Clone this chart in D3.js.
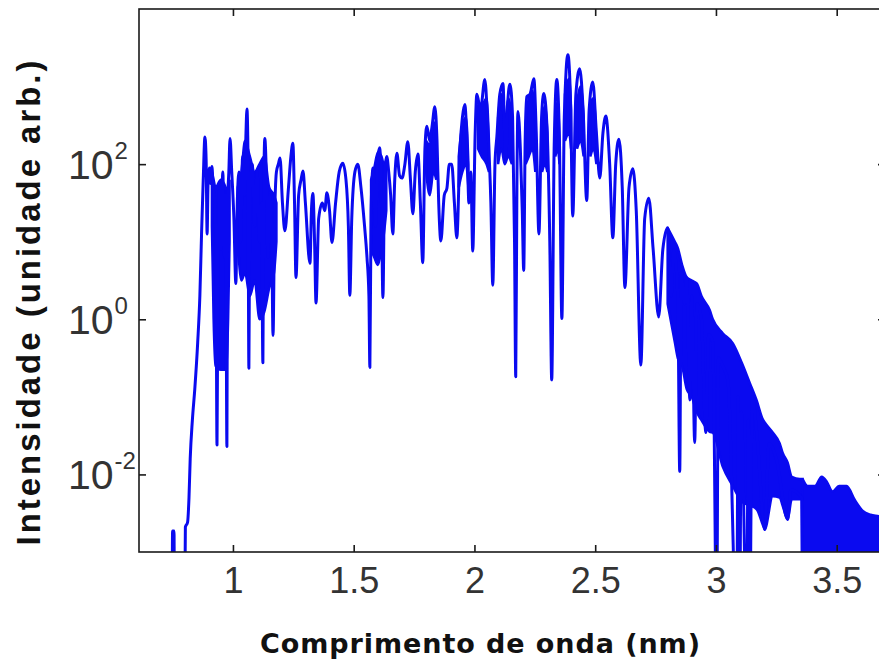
<!DOCTYPE html>
<html>
<head>
<meta charset="utf-8">
<script src="https://cdn.jsdelivr.net/npm/d3@7/dist/d3.min.js"></script>
<style>
  body { margin: 0; background: #fff; }
  svg { display: block; }
</style>
</head>
<body>
<div id="chart"></div>
<script>
// axis ticks
var xTicks = [1, 1.5, 2, 2.5, 3, 3.5];
var yTickExps = [-2, 0, 2];

// spectrum trace: [wavelength (nm), log10 intensity]
var trace = [
  [0.748,-4],[0.750,-2.73],[0.756,-2.73],[0.758,-4],
  [0.800,-4],[0.803,-2.68],[0.812,-2.62],[0.818,-2.3],[0.823,-1.8],[0.832,-1.3],[0.842,-0.9],[0.854,-0.3],
  [0.863,0.3],[0.870,1.1],[0.877,1.8],[0.884,2.35],[0.889,2.05],[0.893,1.1],[0.897,1.75],[0.903,1.95],
  [0.908,1.75],[0.913,1.97],[0.918,1.7],[0.925,1.5],[0.930,0.7],[0.934,-1.62],[0.938,0.6],[0.945,1.7],
  [0.950,0.9],[0.958,1.9],[0.965,0.8],[0.970,1.6],[0.975,-1.64],[0.978,1.5],[0.983,1.9],[0.988,2.33],
  [0.995,1.9],[1.004,1.3],[1.012,0.46],[1.018,1.5],[1.025,1.9],[1.032,1.0],[1.040,2.1],[1.048,1.6],
  [1.054,2.4],[1.058,2.71],[1.062,2.2],[1.066,-0.63],[1.070,1.6],[1.080,2.0],[1.090,1.2],[1.100,1.9],
  [1.110,1.0],[1.118,1.5],[1.124,-0.56],[1.128,1.8],[1.132,2.33],[1.138,1.9],[1.145,0.8],[1.152,1.6],
  [1.160,1.2],[1.166,-0.21],[1.172,1.2],[1.180,1.9],[1.188,2.0],[1.195,2.08],[1.205,1.5],[1.215,1.14],
  [1.230,1.7],[1.240,2.1],[1.248,2.27],[1.255,1.5],[1.261,0.54],[1.272,1.6],[1.282,1.8],[1.290,1.91],
  [1.300,1.5],[1.319,0.72],[1.325,1.4],[1.331,1.62],[1.338,1.0],[1.344,0.21],[1.355,1.3],[1.370,1.5],
  [1.380,1.4],[1.389,1.63],[1.400,1.4],[1.410,0.99],[1.425,1.5],[1.440,1.9],[1.455,2.01],[1.468,1.8],
  [1.478,1.2],[1.484,0.31],[1.492,1.3],[1.505,1.9],[1.517,2.0],[1.530,1.7],[1.545,1.2],[1.555,0.8],
  [1.563,0.3],[1.567,-0.62],[1.572,1.4],[1.580,1.95],[1.590,1.2],[1.600,2.1],[1.608,2.21],[1.615,1.5],
  [1.621,0.28],[1.628,1.8],[1.637,2.10],[1.645,1.9],[1.653,1.6],[1.662,1.10],[1.670,1.8],[1.679,2.14],
  [1.690,1.85],[1.700,1.82],[1.712,2.0],[1.724,2.29],[1.735,1.8],[1.745,1.36],[1.755,1.9],[1.766,2.13],
  [1.776,1.5],[1.786,0.73],[1.795,2.2],[1.803,2.49],[1.815,2.3],[1.825,2.5],[1.836,2.74],[1.845,2.3],
  [1.852,1.5],[1.861,1.01],[1.875,1.6],[1.886,1.69],[1.896,2.0],[1.906,2.00],[1.917,1.5],[1.927,1.05],
  [1.940,2.2],[1.950,2.6],[1.960,2.77],[1.970,2.2],[1.977,1.5],[1.985,1.9],[1.993,0.88],[2.003,2.4],
  [2.010,2.90],[2.025,2.7],[2.043,3.09],[2.055,2.5],[2.068,1.5],[2.076,0.44],[2.085,2.0],[2.093,2.36],
  [2.105,2.9],[2.118,3.04],[2.126,2.3],[2.130,2.06],[2.138,2.8],[2.147,3.03],[2.158,2.6],[2.166,1.0],
  [2.171,-0.74],[2.176,1.8],[2.180,2.68],[2.190,2.2],[2.198,1.4],[2.204,0.63],[2.210,2.3],[2.217,2.87],
  [2.230,2.9],[2.246,3.10],[2.256,2.4],[2.267,1.10],[2.278,2.6],[2.287,2.91],[2.300,2.5],[2.312,1.0],
  [2.320,-0.78],[2.330,2.2],[2.341,3.09],[2.352,2.3],[2.362,0.01],[2.372,2.6],[2.387,3.41],[2.398,2.8],
  [2.407,1.33],[2.420,2.9],[2.436,3.23],[2.450,2.7],[2.465,1.53],[2.475,2.7],[2.490,3.06],[2.505,2.4],
  [2.519,1.82],[2.532,2.4],[2.544,2.62],[2.560,2.0],[2.573,1.05],[2.585,2.0],[2.598,2.32],[2.612,1.7],
  [2.623,0.41],[2.640,1.7],[2.656,1.94],[2.670,1.4],[2.689,-0.59],[2.705,1.3],[2.722,1.56],[2.740,0.9],
  [2.763,0.03],[2.780,0.9],[2.800,1.18],[2.815,0.3],[2.825,0.9],[2.842,0.3],[2.850,-1.96],[2.856,0.6],
  [2.870,0.2],[2.879,0.54],[2.892,-1.04],[2.900,0.3],[2.912,-1.59],[2.921,0.2],[2.940,0.0],[2.958,-1.46],
  [2.970,-0.2],[2.987,-0.3],[3.003,-4],[3.010,-0.5],[3.028,-0.6],[3.050,-0.8],[3.086,-4],[3.092,-1.0],
  [3.098,-4],[3.105,-1.2],[3.127,-4],[3.134,-1.3],[3.140,-4],[3.150,-1.0],[3.170,-1.5],[3.202,-2.71],
  [3.220,-1.6],[3.250,-1.8],[3.297,-2.58],[3.310,-2.2],[3.355,-2.3],[3.359,-4]
];

// densely oscillating parts: [wavelength, log10 upper, log10 lower], null = gap
var bands = [
  [0.913,1.9,1.2],[0.920,1.8,0.0],[0.928,1.7,-0.6],[0.950,1.8,-0.65],[0.970,1.7,-0.65],[0.980,1.6,0.0],[0.986,1.8,1.0],
  null,
  [1.020,1.7,1.0],[1.035,1.9,0.5],[1.050,2.3,0.6],[1.070,2.1,0.3],[1.090,1.9,0.5],[1.110,2.0,0.0],
  [1.130,2.1,0.1],[1.150,1.7,0.4],[1.170,1.6,0.6],[1.180,1.5,1.0],
  null,
  [1.572,1.8,0.9],[1.585,1.95,0.8],[1.600,2.15,0.7],[1.615,2.1,0.9],[1.625,2.0,1.1],[1.635,2.05,1.4],
  null,
  [1.800,2.3,1.9],[1.815,2.25,1.6],[1.830,2.55,1.9],[1.842,2.3,1.8],
  null,
  [1.935,2.1,1.7],[1.950,2.5,1.9],[1.965,2.6,2.0],[1.975,2.0,1.7],
  null,
  [2.015,2.75,2.2],[2.030,2.75,2.1],[2.050,2.85,2.0],[2.060,2.3,1.9],
  null,
  [2.098,2.6,2.0],[2.112,2.9,2.2],[2.125,2.5,2.0],[2.140,2.85,2.1],[2.155,2.6,2.0],
  null,
  [2.212,2.5,2.0],[2.225,2.85,2.1],[2.240,2.95,2.2],[2.252,2.5,1.9],
  null,
  [2.280,2.6,1.9],[2.292,2.75,2.0],[2.302,2.4,1.9],
  null,
  [2.335,2.7,2.1],[2.345,2.8,2.2],[2.352,2.3,2.0],
  null,
  [2.375,2.9,2.3],[2.392,3.1,2.4],[2.400,2.7,2.2],
  null,
  [2.425,2.8,2.2],[2.440,3.0,2.3],[2.452,2.6,2.1],
  null,
  [2.480,2.8,2.1],[2.493,2.85,2.2],[2.505,2.3,2.0],
  null,
  [2.800,1.18,0.2],[2.830,1.0,-0.3],[2.842,0.92,-0.5],[2.860,0.7,-0.6],[2.879,0.54,-0.9],[2.900,0.5,-1.0],
  [2.921,0.46,-1.2],[2.940,0.3,-1.3],[2.974,0.12,-1.45],[2.987,0.0,-1.46],[3.028,-0.18,-1.9],[3.070,-0.31,-2.15],
  [3.107,-0.56,-2.35],[3.140,-0.82,-2.4],[3.169,-1.05,-2.45],[3.194,-1.29,-2.65],[3.202,-1.33,-2.71],
  [3.235,-1.46,-2.28],[3.264,-1.6,-2.30],[3.276,-1.72,-2.4],[3.297,-1.85,-2.58],[3.314,-2.03,-2.32],
  [3.347,-2.06,-2.32],[3.359,-2.06,-2.32],
  null,
  [3.359,-2.06,-4],[3.380,-2.15,-4],[3.410,-2.15,-4],[3.438,-2.03,-4],[3.460,-2.1,-4],[3.483,-2.22,-4],
  [3.510,-2.15,-4],[3.541,-2.15,-4],[3.575,-2.33,-4],[3.608,-2.47,-4],[3.640,-2.52,-4],[3.674,-2.54,-4],
  [3.700,-2.56,-4]
];

var W = 879, H = 665;
var pLeft = 139, pRight = 885, pTop = 9, pBottom = 552;
var blue = "#0a0af0";

var x = d3.scaleLinear().domain([0.611, 3.70]).range([pLeft, pRight]);
var y = d3.scaleLog().domain([1e-3, 1e4]).range([pBottom, pTop]);
var pow10 = function(e) { return Math.pow(10, e); };

var svg = d3.select("#chart").append("svg")
    .attr("width", W)
    .attr("height", H);

svg.append("rect").attr("width", W).attr("height", H).attr("fill", "#fff");

svg.append("clipPath").attr("id", "plotclip")
  .append("rect")
    .attr("x", pLeft).attr("y", pTop)
    .attr("width", pRight - pLeft).attr("height", pBottom - pTop);

var plot = svg.append("g").attr("clip-path", "url(#plotclip)");

var area = d3.area()
    .defined(function(d) { return d !== null; })
    .curve(d3.curveMonotoneX)
    .x(function(d) { return x(d[0]); })
    .y0(function(d) { return y(pow10(d[2])); })
    .y1(function(d) { return y(pow10(d[1])); });

plot.append("path")
    .datum(bands)
    .attr("d", area)
    .attr("fill", blue)
    .attr("stroke", blue)
    .attr("stroke-width", 2.5);

var line = d3.line()
    .curve(d3.curveMonotoneX)
    .x(function(d) { return x(d[0]); })
    .y(function(d) { return y(pow10(d[1])); });

plot.append("path")
    .datum(trace)
    .attr("d", line)
    .attr("fill", "none")
    .attr("stroke", blue)
    .attr("stroke-width", 3)
    .attr("stroke-linejoin", "round");

// frame
svg.append("rect")
    .attr("x", pLeft).attr("y", pTop)
    .attr("width", pRight - pLeft).attr("height", pBottom - pTop)
    .attr("fill", "none")
    .attr("stroke", "#1a1a1a")
    .attr("stroke-width", 1.6);

// x axis (ticks inward, bottom and top)
var xAxis = svg.append("g")
    .attr("transform", "translate(0," + pBottom + ")")
    .call(d3.axisBottom(x).tickValues(xTicks).tickSize(-7).tickSizeOuter(0).tickPadding(15)
      .tickFormat(d3.format("")));
xAxis.select(".domain").remove();
xAxis.selectAll(".tick line").attr("stroke", "#1a1a1a").attr("stroke-width", 1.6);
xAxis.selectAll(".tick text")
    .attr("font-family", "'Liberation Sans', Arial, sans-serif")
    .attr("font-size", 36)
    .attr("fill", "#333");

var xTop = svg.append("g")
    .attr("transform", "translate(0," + pTop + ")")
    .call(d3.axisTop(x).tickValues(xTicks).tickSize(-7).tickSizeOuter(0).tickFormat(""));
xTop.select(".domain").remove();
xTop.selectAll(".tick line").attr("stroke", "#1a1a1a").attr("stroke-width", 1.6);

// y axis ticks, left and right
var yTickVals = yTickExps.map(pow10);
var yLeft = svg.append("g")
    .attr("transform", "translate(" + pLeft + ",0)")
    .call(d3.axisLeft(y).tickValues(yTickVals).tickSize(-7).tickSizeOuter(0).tickFormat(""));
yLeft.select(".domain").remove();
yLeft.selectAll(".tick line").attr("stroke", "#1a1a1a").attr("stroke-width", 1.6);

var yRight = svg.append("g")
    .attr("transform", "translate(" + pRight + ",0)")
    .call(d3.axisRight(y).tickValues(yTickVals).tickSize(-7).tickSizeOuter(0).tickFormat(""));
yRight.select(".domain").remove();
yRight.selectAll(".tick line").attr("stroke", "#1a1a1a").attr("stroke-width", 1.6);

// y tick labels as 10^n
var ylab = svg.append("g")
    .attr("font-family", "'Liberation Sans', Arial, sans-serif")
    .attr("fill", "#333");
yTickExps.forEach(function(e) {
  var t = ylab.append("text")
      .attr("x", 68)
      .attr("y", y(pow10(e)) + 15)
      .attr("font-size", 41);
  t.append("tspan").text("10");
  t.append("tspan").attr("dy", -20).attr("dx", 1).attr("font-size", 24).text(e);
});

// axis titles
svg.append("text")
    .attr("x", 480)
    .attr("y", 653)
    .attr("text-anchor", "middle")
    .attr("font-family", "'DejaVu Sans', sans-serif")
    .attr("font-weight", "bold")
    .attr("font-size", 27)
    .attr("fill", "#111")
    .attr("textLength", 440)
    .attr("lengthAdjust", "spacing")
    .text("Comprimento de onda (nm)");

svg.append("text")
    .attr("transform", "translate(40,303) rotate(-90)")
    .attr("text-anchor", "middle")
    .attr("font-family", "'Liberation Sans', Arial, sans-serif")
    .attr("font-weight", "bold")
    .attr("font-size", 33)
    .attr("fill", "#111")
    .attr("textLength", 485)
    .attr("lengthAdjust", "spacing")
    .text("Intensidade (unidade arb.)");
</script>
</body>
</html>
